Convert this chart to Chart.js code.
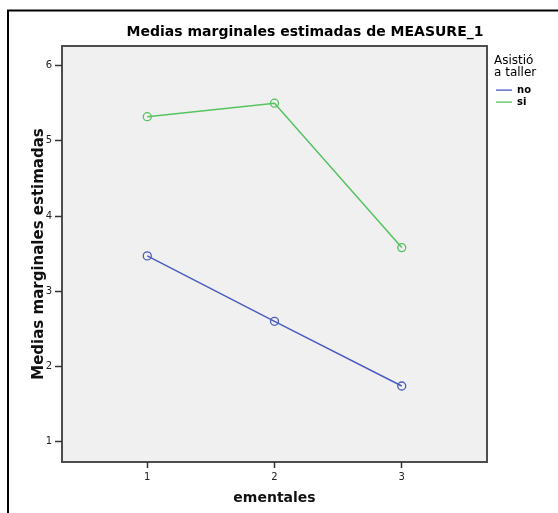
<!DOCTYPE html>
<html>
<head>
<meta charset="utf-8">
<script src="https://cdn.jsdelivr.net/npm/chart.js@4.4.1/dist/chart.umd.min.js"></script>
<style>
  html, body { margin: 0; padding: 0; background: #fff; }
  #wrap { width: 558px; height: 513px; }
</style>
</head>
<body>
<div id="wrap"><canvas id="c" width="558" height="513"></canvas></div>
<script>
// valores
var categories = [1, 2, 3];
var noValues = [3.47, 2.60, 1.74];
var siValues = [5.32, 5.50, 3.58];
var yTicks = [1, 2, 3, 4, 5, 6];
var xTicks = [1, 2, 3];

var FONT = "'DejaVu Sans', sans-serif";

function toPoints(vals) {
    return categories.map(function (c, i) { return {x: c, y: vals[i]}; });
}

// gray plot background, plot frame and the black outer border
var framePlugin = {
    id: 'frame',
    afterLayout: function (chart) {
        var a = chart.chartArea;
        // title centred over plot + legend, legend nudged right
        chart.titleBlock.left = a.left;
        chart.titleBlock.right = chart.width - 10;
        chart.legend.left += 7;
        chart.legend.right += 7;
    },
    beforeDraw: function (chart) {
        var ctx = chart.ctx, a = chart.chartArea;
        ctx.save();
        ctx.fillStyle = '#f0f0f0';
        ctx.fillRect(a.left, a.top, a.right - a.left, a.bottom - a.top);
        ctx.strokeStyle = '#4d4d4d';
        ctx.lineWidth = 2;
        ctx.strokeRect(a.left, a.top, a.right - a.left, a.bottom - a.top);
        ctx.strokeStyle = '#000';
        ctx.beginPath();
        ctx.moveTo(8, chart.height);
        ctx.lineTo(8, 10.5);
        ctx.lineTo(chart.width, 10.5);
        ctx.stroke();
        ctx.restore();
    }
};

function series(label, vals, color) {
    return {
        label: label,
        data: toPoints(vals),
        borderColor: color,
        backgroundColor: color,
        borderWidth: 1.5,
        pointRadius: 4,
        pointBorderWidth: 1.3,
        pointBackgroundColor: 'rgba(0,0,0,0)',
        pointBorderColor: color,
        tension: 0
    };
}

new Chart(document.getElementById('c'), {
    type: 'line',
    data: {
        datasets: [
            series('no', noValues, '#4a5cbf'),
            series('si', siValues, '#55c35f')
        ]
    },
    options: {
        responsive: false,
        animation: false,
        devicePixelRatio: 1,
        layout: { padding: { left: 0, top: 0, right: 24, bottom: 0 } },
        plugins: {
            tooltip: { enabled: false },
            title: {
                display: true,
                text: 'Medias marginales estimadas de MEASURE_1',
                color: '#000',
                font: { family: FONT, size: 14, weight: 'bold' },
                padding: { top: 23.6, bottom: 5.6 }
            },
            legend: {
                position: 'right',
                align: 'start',
                fullSize: false,
                title: {
                    display: true,
                    position: 'start',
                    text: ['Asistió', 'a taller'],
                    color: '#000',
                    font: { family: FONT, size: 12, lineHeight: 1.05 },
                    padding: { top: 8.5, bottom: 16 }
                },
                labels: {
                    usePointStyle: true,
                    pointStyle: 'line',
                    pointStyleWidth: 16,
                    boxHeight: 10,
                    padding: 2,
                    color: '#000',
                    font: { family: FONT, size: 10, weight: 'bold' }
                }
            }
        },
        scales: {
            x: {
                type: 'linear',
                min: 0.33,
                max: 3.67,
                afterBuildTicks: function (s) {
                    s.ticks = xTicks.map(function (v) { return {value: v}; });
                },
                afterFit: function (s) { s.height = 51; },
                grid: { drawOnChartArea: false, drawTicks: true, tickLength: 6, tickColor: '#333', tickWidth: 1.5 },
                border: { display: false },
                ticks: { autoSkip: false, maxRotation: 0, padding: 3, color: '#222', font: { family: FONT, size: 10 } },
                title: {
                    display: true,
                    text: 'ementales',
                    color: '#111',
                    font: { family: FONT, size: 14, weight: 'bold' },
                    padding: { top: 0, bottom: 6.6 }
                }
            },
            y: {
                type: 'linear',
                min: 0.73,
                max: 6.26,
                afterBuildTicks: function (s) {
                    s.ticks = yTicks.map(function (v) { return {value: v}; });
                },
                afterFit: function (s) { s.width = 62; },
                grid: { drawOnChartArea: false, drawTicks: true, tickLength: 7, tickColor: '#333', tickWidth: 1.5 },
                border: { display: false },
                ticks: { autoSkip: false, padding: 3, color: '#222', font: { family: FONT, size: 10 } },
                title: {
                    display: true,
                    text: 'Medias marginales estimadas',
                    color: '#111',
                    font: { family: FONT, size: 15, weight: 'bold' },
                    padding: { top: 30, bottom: 0 }
                }
            }
        }
    },
    plugins: [framePlugin]
});
</script>
</body>
</html>
